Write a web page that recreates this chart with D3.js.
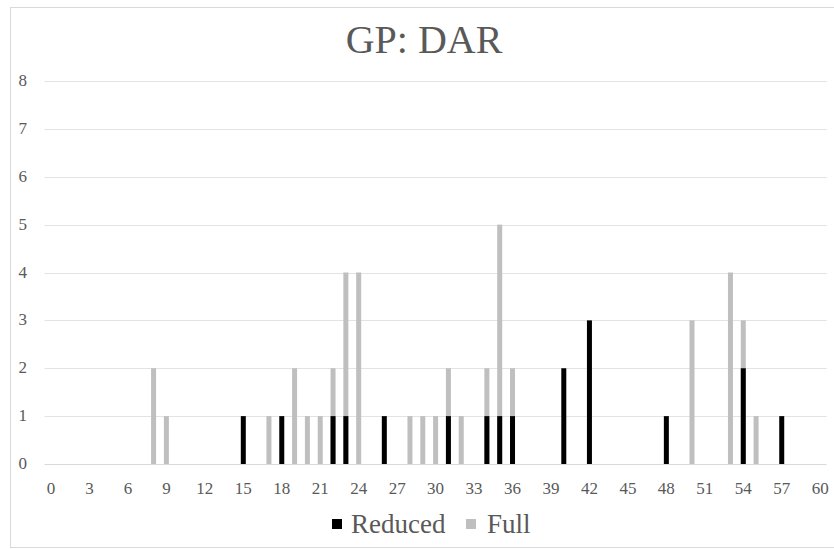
<!DOCTYPE html>
<html>
<head>
<meta charset="utf-8">
<script src="https://cdn.jsdelivr.net/npm/d3@7"></script>
<style>
  body { margin:0; background:#fff; }
</style>
</head>
<body>
<svg id="stage" width="834" height="549"></svg>
<script>
// ---- data ----
const categories = d3.range(0, 61);           // 0..60
const tickLabels = d3.range(0, 61, 3);        // every 3rd category labelled
const yTicks = [0,1,2,3,4,5,6,7,8];

const fullCats = [8, 9, 17, 19, 20, 21, 22, 23, 24, 28, 29, 30, 31, 32, 34, 35, 36, 50, 53, 54, 55];
const fullVals = [2, 1,  1,  2,  1,  1,  2,  4,  4,  1,  1,  1,  2,  1,  2,  5,  2,  3,  4,  3,  1];

const reducedCats = [15, 18, 22, 23, 26, 31, 34, 35, 36, 40, 42, 48, 54, 57];
const reducedVals = [ 1,  1,  1,  1,  1,  1,  1,  1,  1,  2,  3,  1,  2,  1];

const series = [
  { name:"Reduced", color:"#000000", cats:reducedCats, vals:reducedVals },
  { name:"Full",    color:"#bfbfbf", cats:fullCats,    vals:fullVals }
];

const FONT = "'Liberation Serif'";

// ---- layout ----
const svg = d3.select("#stage");
const L = 44.6, R = 826.6, T = 81, B = 464;

// chart frame
svg.append("rect")
  .attr("x", 10.5).attr("y", 7.5).attr("width", 840).attr("height", 540)
  .attr("fill", "#fff").attr("stroke", "#d9d9d9");

const x = d3.scaleBand().domain(categories).range([L, R]).paddingInner(0.61).paddingOuter(0.305);
const xc = d3.scaleBand().domain(categories).range([L, R]);
const y = d3.scaleLinear().domain([0, 8]).range([B, T]);

// gridlines
svg.append("g")
  .selectAll("line").data(yTicks.filter(d => d > 0)).join("line")
  .attr("x1", L).attr("x2", R)
  .attr("y1", d => Math.round(y(d)) + 0.5).attr("y2", d => Math.round(y(d)) + 0.5)
  .attr("stroke", "#e3e3e3").attr("stroke-width", 1.2);

// y labels
svg.append("g")
  .selectAll("text").data(yTicks).join("text")
  .attr("x", 27).attr("y", d => y(d) + 5)
  .attr("text-anchor", "end")
  .attr("font-family", FONT).attr("fill", "#595959")
  .style("font-size", "17px")
  .text(d => d);

// bars: Full behind, Reduced in front (100% overlap)
const bars = svg.append("g");
[series[1], series[0]].forEach(s => {
  bars.append("g").selectAll("rect")
    .data(s.cats.map((c, i) => ({ c, v: s.vals[i] })))
    .join("rect")
    .attr("x", d => x(d.c))
    .attr("width", x.bandwidth())
    .attr("y", d => y(d.v))
    .attr("height", d => y(0) - y(d.v))
    .attr("fill", s.color);
});

// x axis line
svg.append("line")
  .attr("x1", L).attr("x2", R).attr("y1", B + 0.5).attr("y2", B + 0.5)
  .attr("stroke", "#d9d9d9").attr("stroke-width", 1.2);

// x labels
svg.append("g")
  .selectAll("text").data(tickLabels).join("text")
  .attr("x", d => xc(d) + xc.bandwidth() / 2)
  .attr("y", 494)
  .attr("text-anchor", "middle")
  .attr("font-family", FONT).attr("fill", "#595959")
  .style("font-size", "17px")
  .text(d => d);

// title
svg.append("text")
  .attr("x", 424).attr("y", 53)
  .attr("text-anchor", "middle")
  .attr("font-family", FONT).attr("fill", "#595959")
  .style("font-size", "40px")
  .text("GP: DAR");

// legend
const legend = svg.append("g");
const legendPos = [{ sx: 332, tx: 351 }, { sx: 466, tx: 487 }];
series.forEach((s, i) => {
  legend.append("rect")
    .attr("x", legendPos[i].sx).attr("y", 519)
    .attr("width", 10).attr("height", 10)
    .attr("fill", s.color);
  legend.append("text")
    .attr("x", legendPos[i].tx).attr("y", 533)
    .attr("font-family", FONT).attr("fill", "#595959")
    .style("font-size", "27px")
    .text(s.name);
});
</script>
</body>
</html>
